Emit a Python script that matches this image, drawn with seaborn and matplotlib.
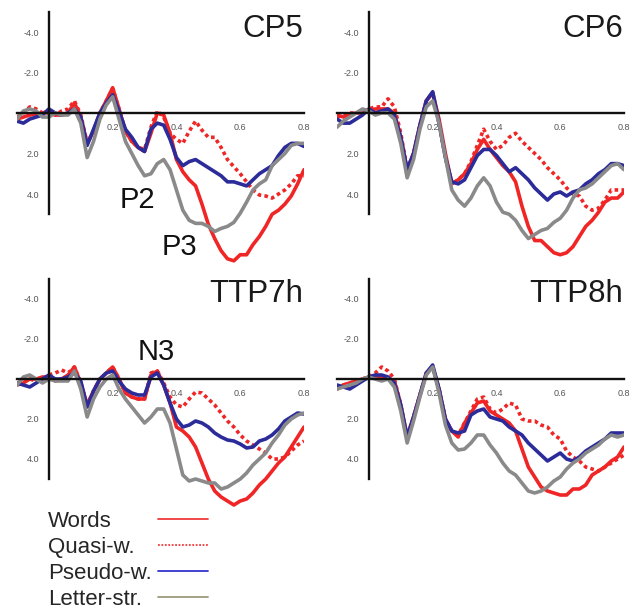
import numpy as np
import pandas as pd
import seaborn as sns
import matplotlib
matplotlib.use("Agg")
import matplotlib.pyplot as plt

# ERP waveforms (microvolts, negative up), sampled every 20 ms from -0.1 to 0.8 s
times = np.round(np.arange(-0.1, 0.8001, 0.02), 2)

sites = ["CP5", "CP6", "TTP7h", "TTP8h"]
conditions = ["Words", "Quasi-w.", "Pseudo-w.", "Letter-str."]

cp5_words = [0.3, 0.2, 0.1, 0.05, 0.0, -0.1, 0.1, 0.1, 0.0, -0.5, 0.2, 1.5, 0.9, 0.0, -0.6, -1.25, -0.2, 0.9, 1.4, 1.7,
             1.9, 1.0, 0.0, 0.1, 1.0, 2.3, 2.9, 3.3, 3.6, 4.5, 5.5, 6.2, 6.8, 7.2, 7.3, 7.0, 7.0, 6.5, 6.1, 5.6,
             5.0, 4.8, 4.5, 4.1, 3.5, 2.8]
cp5_quasi = [0.2, 0.0, -0.3, -0.2, 0.0, 0.0, 0.1, -0.1, -0.2, -0.6, 0.1, 1.5, 0.9, 0.0, -0.6, -1.2, -0.2, 0.9, 1.4, 1.7,
             1.8, 0.7, -0.1, 0.2, 1.0, 1.3, 1.5, 0.9, 0.4, 0.85, 1.2, 1.2, 1.7, 2.3, 2.65, 3.0, 3.4, 3.8, 4.05, 4.1,
             4.2, 4.0, 3.8, 3.5, 3.1, 3.1]
cp5_pseudo = [0.4, 0.5, 0.3, 0.2, 0.1, -0.2, 0.0, 0.1, 0.0, -0.2, 0.2, 1.6, 0.8, 0.0, -0.5, -0.9, -0.1, 0.8, 1.2, 1.7,
              1.9, 0.8, 0.5, 0.6, 1.3, 2.2, 2.6, 2.4, 2.3, 2.5, 2.7, 2.9, 3.1, 3.4, 3.4, 3.5, 3.6, 3.3, 3.0, 2.8,
              2.6, 2.1, 1.7, 1.5, 1.5, 1.65]
cp5_letter = [0.3, -0.1, -0.2, -0.1, 0.2, 0.2, 0.0, 0.1, 0.1, -0.2, 0.5, 2.2, 1.4, 0.3, -0.4, -0.8, 0.3, 1.4, 2.0, 2.6,
              3.1, 3.0, 2.5, 2.3, 2.8, 3.8, 4.8, 5.3, 5.45, 5.45, 5.6, 5.85, 5.7, 5.6, 5.4, 4.95, 4.4, 3.8, 3.5, 3.3,
              2.6, 2.3, 2.0, 1.6, 1.5, 1.5]

cp6_words = [0.1, 0.2, 0.1, 0.0, 0.0, -0.1, -0.2, -0.2, -0.2, 0.0, 1.2, 2.8, 2.0, 0.6, -0.6, -1.0, 0.3, 2.0, 3.5, 3.3,
             3.0, 2.5, 1.8, 1.3, 1.8, 2.2, 2.6, 2.9, 3.4, 4.6, 5.6, 6.3, 6.3, 6.6, 6.9, 7.0, 6.9, 6.6, 6.1, 5.6,
             5.3, 4.9, 4.4, 4.2, 4.2, 3.9]
cp6_quasi = [0.2, 0.1, 0.0, 0.0, -0.1, -0.2, -0.3, -0.3, -0.7, -0.3, 1.0, 2.8, 2.0, 0.6, -0.6, -1.0, 0.5, 2.2, 3.5, 3.3,
             3.0, 2.4, 1.6, 0.8, 1.4, 1.8, 1.6, 1.2, 1.0, 1.4, 1.7, 2.0, 2.3, 2.7, 3.0, 3.3, 3.7, 4.0, 4.1, 4.6,
             4.8, 4.7, 4.3, 3.8, 3.8, 3.8]
cp6_pseudo = [0.3, 0.5, 0.5, 0.3, 0.1, -0.2, 0.0, -0.1, -0.2, 0.1, 1.2, 2.8, 2.0, 0.6, -0.6, -1.05, 0.5, 2.2, 3.4, 3.5,
              3.3, 2.7, 2.1, 1.8, 1.8, 2.1, 2.5, 2.9, 2.7, 3.0, 3.3, 3.7, 4.0, 4.3, 4.0, 3.9, 4.1, 3.9, 3.8, 3.5,
              3.3, 3.0, 2.8, 2.5, 2.5, 2.6]
cp6_letter = [0.7, 0.4, 0.2, 0.0, -0.2, -0.1, 0.1, 0.0, 0.0, 0.3, 1.5, 3.2, 2.3, 0.8, -0.3, -0.6, 0.5, 2.2, 3.8, 4.3,
              4.6, 4.2, 3.6, 3.2, 3.6, 4.4, 4.9, 5.0, 5.3, 5.8, 6.2, 6.0, 5.8, 5.7, 5.4, 5.2, 4.8, 4.2, 3.8, 3.7,
              3.5, 3.2, 2.9, 2.6, 2.5, 2.8]

ttp7_words = [0.3, 0.2, 0.0, 0.0, -0.1, -0.1, 0.1, 0.0, -0.2, -0.6, 0.2, 1.3, 0.6, 0.0, -0.3, -0.6, 0.0, 0.7, 0.9, 1.0,
              1.0, -0.2, -0.4, 0.3, 1.2, 2.4, 2.6, 2.9, 3.4, 4.2, 5.0, 5.6, 5.9, 6.1, 6.3, 6.1, 6.0, 5.7, 5.3, 5.0,
              4.6, 4.2, 3.9, 3.4, 2.9, 2.4]
ttp7_quasi = [0.2, 0.1, 0.0, 0.1, 0.0, -0.2, -0.3, -0.45, -0.3, -0.6, 0.2, 1.3, 0.6, 0.0, -0.3, -0.6, 0.0, 0.7, 0.9, 1.0,
              1.0, -0.3, -0.4, 0.2, 0.9, 1.3, 1.4, 1.0, 0.65, 0.7, 1.0, 1.3, 1.7, 2.1, 2.4, 2.8, 3.1, 3.3, 3.5, 3.7,
              4.0, 4.0, 3.9, 3.6, 3.3, 3.1]
ttp7_pseudo = [0.2, 0.3, 0.4, 0.2, 0.0, -0.2, 0.0, 0.0, -0.1, -0.3, 0.1, 1.4, 0.6, 0.0, -0.3, -0.4, 0.1, 0.5, 0.7, 0.8,
               0.8, -0.1, -0.3, 0.3, 1.2, 2.0, 2.4, 2.3, 2.1, 2.2, 2.4, 2.7, 2.9, 3.05, 3.1, 3.25, 3.45, 3.4, 3.1, 3.0,
               2.8, 2.5, 2.1, 1.9, 1.7, 1.75]
ttp7_letter = [0.3, -0.1, -0.2, 0.0, 0.2, 0.0, 0.1, 0.1, 0.1, -0.4, 0.5, 1.9, 1.0, 0.4, 0.0, -0.2, 0.5, 1.0, 1.4, 1.8,
               2.2, 1.9, 1.5, 1.5, 2.2, 3.5, 4.8, 5.1, 5.0, 5.1, 5.2, 5.2, 5.5, 5.4, 5.2, 5.0, 4.7, 4.3, 4.0, 3.7,
               3.2, 2.8, 2.3, 2.0, 1.8, 1.7]

ttp8_words = [0.5, 0.3, 0.2, 0.1, 0.0, -0.1, -0.1, -0.1, 0.0, 0.1, 1.3, 2.9, 1.9, 0.8, -0.3, -0.6, 0.5, 2.0, 2.6, 2.9,
              2.2, 1.7, 1.2, 1.1, 1.6, 1.8, 2.0, 2.2, 2.6, 3.5, 4.4, 4.9, 5.4, 5.6, 5.7, 5.8, 5.8, 5.5, 5.5, 5.3,
              4.8, 4.6, 4.4, 4.1, 3.9, 3.4]
ttp8_quasi = [0.5, 0.3, 0.2, 0.1, 0.0, -0.1, -0.3, -0.6, -0.4, 0.0, 1.3, 2.9, 1.9, 0.8, -0.3, -0.6, 0.5, 2.0, 2.6, 2.8,
              2.2, 1.6, 1.0, 0.9, 1.5, 1.7, 1.5, 1.2, 1.3, 2.0, 2.1, 2.1, 2.3, 2.4, 2.8, 3.0, 3.6, 3.9, 4.1, 4.4,
              4.5, 4.6, 4.4, 4.2, 4.0, 3.8]
ttp8_pseudo = [0.3, 0.4, 0.5, 0.3, 0.1, -0.1, -0.2, -0.2, -0.1, 0.2, 1.3, 2.9, 1.9, 0.8, -0.3, -0.7, 0.5, 2.0, 2.6, 2.7,
               2.6, 1.8, 1.6, 1.5, 1.9, 2.0, 2.1, 2.4, 2.6, 2.8, 3.2, 3.5, 3.8, 4.1, 3.9, 3.7, 4.0, 4.1, 3.9, 3.6,
               3.4, 3.2, 3.0, 2.7, 2.7, 2.7]
ttp8_letter = [0.5, 0.4, 0.3, 0.2, 0.0, -0.1, 0.0, 0.1, 0.0, 0.4, 1.6, 3.2, 2.1, 0.9, -0.2, -0.6, 0.7, 2.3, 3.2, 3.55,
               3.5, 3.2, 2.8, 2.8, 3.3, 3.7, 4.2, 4.6, 4.8, 5.2, 5.6, 5.7, 5.6, 5.4, 5.1, 4.9, 4.5, 4.2, 4.0, 3.7,
               3.5, 3.3, 3.0, 2.8, 2.9, 2.8]

waves = {
    "CP5": [cp5_words, cp5_quasi, cp5_pseudo, cp5_letter],
    "CP6": [cp6_words, cp6_quasi, cp6_pseudo, cp6_letter],
    "TTP7h": [ttp7_words, ttp7_quasi, ttp7_pseudo, ttp7_letter],
    "TTP8h": [ttp8_words, ttp8_quasi, ttp8_pseudo, ttp8_letter],
}

x_ticks = [0.2, 0.4, 0.6, 0.8]
x_tick_labels = ["0.2", "0.4", "0.6", "0.8"]
y_ticks = [-4, -2, 2, 4]
y_tick_labels = ["-4.0", "-2.0", "2.0", "4.0"]

# long table for seaborn
rows = []
for site in sites:
    for cond, vals in zip(conditions, waves[site]):
        for t, v in zip(times, vals):
            rows.append((site, cond, t, v))
df = pd.DataFrame(rows, columns=["site", "condition", "time", "uv"])

colors = {"Words": "#f02626", "Quasi-w.": "#f02626", "Pseudo-w.": "#2b2b9a", "Letter-str.": "#8a8a8a"}
dashes = {"Words": "", "Quasi-w.": (1, 0.9), "Pseudo-w.": "", "Letter-str.": ""}

sns.set_style("white")
plt.rcParams["font.family"] = ["Liberation Sans", "DejaVu Sans"]

W, H = 632, 613
fig = plt.figure(figsize=(W / 100, H / 100), dpi=100)

# panel layout in pixels: left edge (t=-0.1), zero line y, px per microvolt
layout = {"CP5": (17, 113, 20.25), "CP6": (337, 113, 20.25),
          "TTP7h": (17, 379, 20.0), "TTP8h": (337, 379, 20.0)}
y_top, y_bot = -5.5, 8.0

axes = {}
for site in sites:
    x0, y0, s = layout[site]
    top = y0 + y_top * s
    bot = y0 + y_bot * s
    ax = fig.add_axes([x0 / W, 1 - bot / H, 287 / W, (bot - top) / H])
    ax.patch.set_alpha(0)
    sns.lineplot(data=df[df["site"] == site], x="time", y="uv", hue="condition", style="condition",
                 hue_order=conditions, style_order=conditions, palette=colors, dashes=dashes,
                 estimator=None, linewidth=2.6, legend=False, ax=ax,
                 solid_joinstyle="round", solid_capstyle="round")
    ax.set_xlim(-0.1, 0.8)
    ax.set_ylim(y_bot, y_top)
    for side in ["top", "right"]:
        ax.spines[side].set_visible(False)
    ax.spines["left"].set_position(("data", 0))
    ax.spines["left"].set_bounds(-5, 5)
    ax.spines["bottom"].set_position(("data", 0))
    ax.spines["bottom"].set_bounds(-0.1, 0.8)
    for side in ["left", "bottom"]:
        ax.spines[side].set_linewidth(1.7)
        ax.spines[side].set_color("#111111")
    ax.set_xticks(x_ticks)
    ax.set_xticklabels(x_tick_labels)
    ax.set_yticks(y_ticks)
    ax.set_yticklabels(y_tick_labels)
    ax.tick_params(direction="inout", length=12, width=1.5, color="#111111",
                   labelsize=6.5, labelcolor="#555555", pad=1.2)
    ax.set_xlabel("")
    ax.set_ylabel("")
    axes[site] = ax

# site names
title_pos = {"CP5": (303, 37), "CP6": (623, 37), "TTP7h": (303, 302), "TTP8h": (623, 302)}
for site, (tx, ty) in title_pos.items():
    fig.text(tx / W, 1 - ty / H, site, ha="right", va="baseline", fontsize=22.5, color="#1a1a1a")

# component labels
for lab, (lx, ly) in {"P2": (120, 208), "P3": (162, 255), "N3": (138, 360)}.items():
    fig.text(lx / W, 1 - ly / H, lab, ha="left", va="baseline", fontsize=21, color="#111111")

# legend: labels column and line column
handles = axes["CP5"].get_lines()[:4]
leg_kw = dict(loc="upper left", frameon=False, borderpad=0, borderaxespad=0,
              labelspacing=0.22, fontsize=16)
leg_text = fig.legend(handles, conditions, bbox_to_anchor=(48 / W, 1 - 511 / H),
                      handlelength=0, handletextpad=0, **leg_kw)
for h in leg_text.legend_handles:
    h.set_visible(False)
leg_lines = fig.legend(handles, [" "] * 4, bbox_to_anchor=(158 / W, 1 - 511 / H),
                       handlelength=2.25, handletextpad=0, **leg_kw)
legend_colors = ["#f03a3a", "#f03a3a", "#3434d0", "#9c9c7a"]
for h, c in zip(leg_lines.legend_handles, legend_colors):
    h.set_color(c)
    h.set_linewidth(1.3)

fig.savefig("out.png", dpi=100, facecolor="white")
